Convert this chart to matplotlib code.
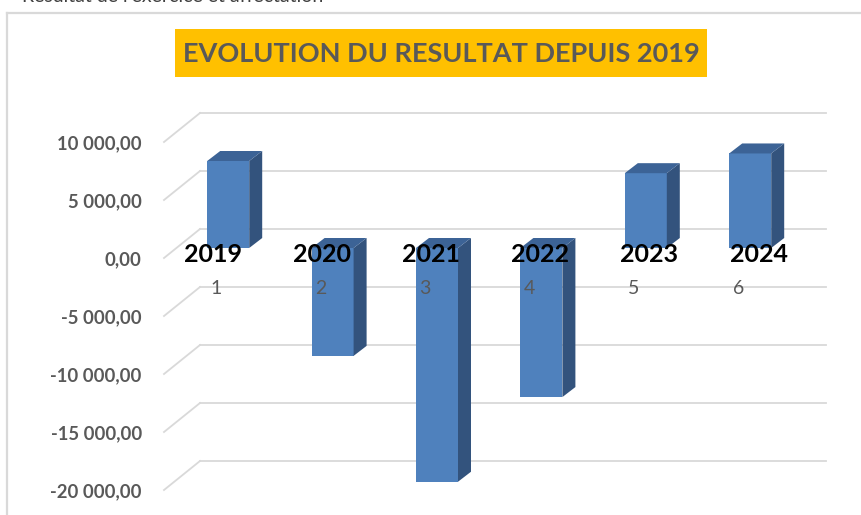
import matplotlib
matplotlib.use('Agg')
import matplotlib.pyplot as plt
from matplotlib.patches import Polygon, Rectangle
from matplotlib.lines import Line2D

plt.rcParams['font.family'] = ['Lato', 'DejaVu Sans']

# data
years = ['2019', '2020', '2021', '2022', '2023', '2024']
cat_nums = ['1', '2', '3', '4', '5', '6']
resultat = [7500, -9300, -20150, -12850, 6450, 8150]
yticks = [-20000, -15000, -10000, -5000, 0, 5000, 10000]

W, H = 861, 515
fig = plt.figure(figsize=(W / 100, H / 100), dpi=100)

# axes placed so that the front floor plane maps to the picture
px_cat = 104.4          # pixels per category
px_val = 58 / 5000      # pixels per unit
x0_px, y0_px = 164, 258  # left edge (cat 0.5) and zero line of front plane
ymin, ymax = -22000, 12000
top_px = y0_px - ymax * px_val
bot_px = y0_px - ymin * px_val
ax = fig.add_axes([x0_px / W, (H - bot_px) / H, 6 * px_cat / W, (bot_px - top_px) / H])
ax.set_xlim(0.5, 6.5)
ax.set_ylim(ymin, ymax)
for s in ax.spines.values():
    s.set_visible(False)
ax.set_xticks([])
ax.set_yticks(yticks)
ax.set_yticklabels(['{:,.2f}'.format(v).replace(',', ' ').replace('.', ',') for v in yticks])
ax.tick_params(axis='y', length=0, pad=16, labelsize=13.3, labelcolor='#595959')
for lab in ax.get_yticklabels():
    lab.set_fontweight('bold')

# depth of the 3d box (in data units)
dx_full, dy_full = 36 / px_cat, 29 / px_val
dx_front, dy_front = 12 / px_cat, 10 / px_val   # bar front plane
dx_bar, dy_bar = 13 / px_cat, 10 / px_val        # bar depth
bw = 42 / px_cat
grid_c = '#D9D9D9'

for v in yticks:
    ax.add_line(Line2D([0.5, 0.5 + dx_full], [v, v + dy_full], color=grid_c, lw=1.3, zorder=1, clip_on=False))
    ax.add_line(Line2D([0.5 + dx_full, 6.5 + dx_full], [v + dy_full, v + dy_full], color=grid_c, lw=1.3,
                       zorder=1, clip_on=False))

front_c, side_c, top_c = '#4F81BD', '#33537D', '#3C6396'
xs = [i + 1 for i in range(len(years))]
for x, v in zip(xs, resultat):
    xl = x + dx_front - bw / 2
    xr = xl + bw
    b = dy_front
    t = v + dy_front
    lo, hi = min(b, t), max(b, t)
    ax.bar(x + dx_front, v, bottom=dy_front, width=bw, color=front_c, zorder=3, clip_on=False)
    ax.add_patch(Polygon([[xr, lo], [xr, hi], [xr + dx_bar, hi + dy_bar], [xr + dx_bar, lo + dy_bar]],
                         closed=True, facecolor=side_c, edgecolor='none', zorder=3, clip_on=False))
    ax.add_patch(Polygon([[xl, hi], [xr, hi], [xr + dx_bar, hi + dy_bar], [xl + dx_bar, hi + dy_bar]],
                         closed=True, facecolor=top_c, edgecolor='none', zorder=3, clip_on=False))

for i, (yr, n) in enumerate(zip(years, cat_nums)):
    ax.text(0.97 + i * 1.045, 260, yr, ha='center', va='center', fontsize=18, fontweight='bold',
            color='black', zorder=5)
    ax.text(xs[i], -2590, n, ha='center', va='center', fontsize=14, color='#595959', zorder=5)

# title box
fig.add_artist(Rectangle((175 / W, 1 - 77 / H), 532 / W, 48 / H, transform=fig.transFigure,
                         facecolor='#FFC000', edgecolor='none', zorder=2))
fig.text(441 / W, 1 - 54 / H, 'EVOLUTION DU RESULTAT DEPUIS 2019', ha='center', va='center',
         fontsize=19.5, fontweight='bold', color='#595959', zorder=3)

# chart border
fig.add_artist(Line2D([7 / W, 1], [1 - 13 / H, 1 - 13 / H], transform=fig.transFigure, color=grid_c, lw=1.6))
fig.add_artist(Line2D([7 / W, 7 / W], [0, 1 - 13 / H], transform=fig.transFigure, color=grid_c, lw=1.6))

# cut-off text above the chart
fig.text(22 / W, 1 - 2 / H, "Résultat de l'exercice et affectation", ha='left', va='baseline',
         fontsize=14, color='#404040')

fig.savefig('out.png', dpi=100)
